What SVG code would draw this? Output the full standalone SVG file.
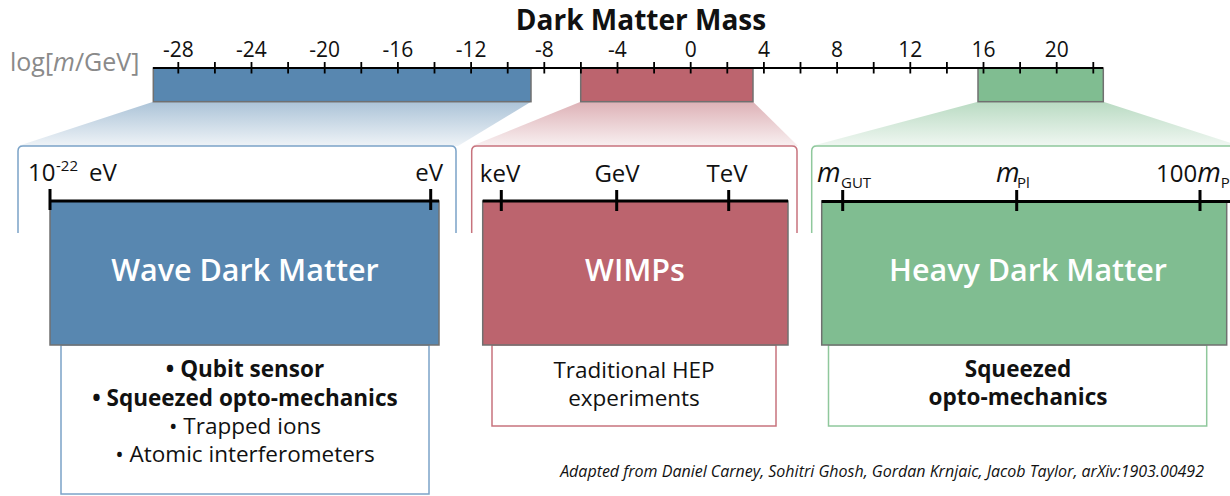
<svg xmlns="http://www.w3.org/2000/svg" width="1230" height="496" viewBox="0 0 1230 496">
<style>
text{font-family:"Open Sans","Noto Sans","DejaVu Sans",sans-serif;fill:#111}
.num{font-size:21px;text-anchor:middle}
.lab{font-size:24px}
.mid{text-anchor:middle}
.big{font-size:30.5px;font-weight:600;fill:#fff;text-anchor:middle}
.li{font-size:22.5px;text-anchor:middle}
.b{font-weight:700}
.bar{stroke:#707070;stroke-width:1.5}
.ax{stroke:#000;stroke-width:1.8;fill:none}
.ax2{stroke:#000;stroke-width:3;fill:none}
.blue{fill:#5887b0}.red{fill:#bc646e}.green{fill:#80bd91}
</style>
<defs>
<linearGradient id="gb" x1="0" y1="101.7" x2="0" y2="146" gradientUnits="userSpaceOnUse"><stop offset="0" stop-color="#5887b0" stop-opacity="0.5"/><stop offset="1" stop-color="#5887b0" stop-opacity="0.1"/></linearGradient>
<linearGradient id="gr" x1="0" y1="101.7" x2="0" y2="146" gradientUnits="userSpaceOnUse"><stop offset="0" stop-color="#bc646e" stop-opacity="0.5"/><stop offset="1" stop-color="#bc646e" stop-opacity="0.1"/></linearGradient>
<linearGradient id="gg" x1="0" y1="101.7" x2="0" y2="146" gradientUnits="userSpaceOnUse"><stop offset="0" stop-color="#80bd91" stop-opacity="0.55"/><stop offset="1" stop-color="#80bd91" stop-opacity="0.12"/></linearGradient>
</defs>
<rect width="1230" height="496" fill="#fff"/>

<g id="title">
<text x="641" y="30" class="mid b" font-size="28">Dark Matter Mass</text>
<text x="10" y="71" font-size="25" style="fill:#8a8a8a">log[<tspan font-style="italic">m</tspan>/GeV]</text>
</g>

<g id="connectors">
<polygon points="153.3,101.7 531,101.7 458,146 18,146" fill="url(#gb)"/>
<polygon points="580.7,101.7 753,101.7 798,146 471.7,146" fill="url(#gr)"/>
<polygon points="978,101.7 1103.3,101.7 1240,146 811.7,146" fill="url(#gg)"/>
</g>

<g id="bar-wave"><rect x="153.3" y="68" width="377.7" height="33.7" class="bar blue"/></g>
<g id="bar-wimps"><rect x="580.7" y="68" width="172.3" height="33.7" class="bar red"/></g>
<g id="bar-heavy"><rect x="978" y="68" width="125.3" height="33.7" class="bar green"/></g>

<g id="axis">
<line x1="153" y1="68" x2="1103" y2="68" class="ax"/>
<path class="ax" d="M178.3,62v11.5M214.9,62v11.5M251.5,62v11.5M288.1,62v11.5M324.7,62v11.5M361.3,62v11.5M397.9,62v11.5M434.5,62v11.5M471.1,62v11.5M507.7,62v11.5M544.3,62v11.5M580.9,62v11.5M617.5,62v11.5M654.1,62v11.5M690.7,62v11.5M727.3,62v11.5M763.9,62v11.5M800.5,62v11.5M837.1,62v11.5M873.7,62v11.5M910.3,62v11.5M946.9,62v11.5M983.5,62v11.5M1020.1,62v11.5M1056.7,62v11.5M1093.3,62v11.5"/>
<text class="num" y="57"><tspan x="178.3">-28</tspan><tspan x="251.5">-24</tspan><tspan x="324.7">-20</tspan><tspan x="397.9">-16</tspan><tspan x="471.1">-12</tspan><tspan x="544.3">-8</tspan><tspan x="617.5">-4</tspan><tspan x="690.7">0</tspan><tspan x="763.9">4</tspan><tspan x="837.1">8</tspan><tspan x="910.3">12</tspan><tspan x="983.5">16</tspan><tspan x="1056.7">20</tspan></text>
</g>

<g id="wave">
<path d="M18,233V151Q18,146 23,146H451Q456,146 456,151V233" fill="#fff" stroke="#7ba3c8" stroke-width="1.5"/>
<rect x="61" y="345" width="368" height="149" fill="#fff" stroke="#7ba3c8" stroke-width="1.5"/>
<rect x="50" y="201" width="389" height="144" class="bar blue"/>
<line x1="50" y1="201" x2="439" y2="201" class="ax2"/>
<path class="ax2" d="M50,189v21M430.7,189v21"/>
<text class="lab" y="181"><tspan x="28">10</tspan><tspan x="56" y="171" font-size="15">-22</tspan><tspan x="89" y="181">eV</tspan></text>
<text class="lab" x="443" y="181" text-anchor="end">eV</text>
<text class="big" x="245" y="281">Wave Dark Matter</text>
<text class="li b" x="245" y="377">• Qubit sensor</text>
<text class="li b" x="245" y="406">• Squeezed opto-mechanics</text>
<text class="li" x="245" y="434">• Trapped ions</text>
<text class="li" x="245" y="462">• Atomic interferometers</text>
</g>

<g id="wimps">
<path d="M471.7,233V151Q471.7,146 476.7,146H792Q797,146 797,151V233" fill="#fff" stroke="#c7737d" stroke-width="1.5"/>
<rect x="492" y="345" width="284" height="81" fill="#fff" stroke="#c7737d" stroke-width="1.5"/>
<rect x="482.7" y="201" width="305.3" height="144" class="bar red"/>
<line x1="482.7" y1="201" x2="788" y2="201" class="ax2"/>
<path class="ax2" d="M501.3,190v21M616.7,190v21M728.7,190v21"/>
<text class="lab mid" x="500" y="182">keV</text>
<text class="lab mid" x="617" y="182">GeV</text>
<text class="lab mid" x="727" y="182">TeV</text>
<text class="big" x="635" y="281">WIMPs</text>
<text class="li" x="634" y="378">Traditional HEP</text>
<text class="li" x="634" y="406">experiments</text>
</g>

<g id="heavy">
<path d="M811.7,233V151Q811.7,146 816.7,146H1240" fill="#fff" stroke="#8fc89c" stroke-width="1.5"/>
<rect x="828.5" y="345" width="378.2" height="81" fill="#fff" stroke="#8fc89c" stroke-width="1.5"/>
<rect x="821.7" y="201" width="405" height="144" class="bar green"/>
<line x1="821.7" y1="201.5" x2="1230" y2="201.5" class="ax2"/>
<path class="ax2" d="M842.7,190v21M1016.7,190v21M1200,190v21"/>
<text class="lab" y="182"><tspan x="817" font-style="italic" font-size="27">m</tspan><tspan x="841" y="188" font-size="15">GUT</tspan></text>
<text class="lab" y="182"><tspan x="996" font-style="italic" font-size="27">m</tspan><tspan x="1017" y="188" font-size="15">Pl</tspan></text>
<text class="lab" y="182"><tspan x="1156">100</tspan><tspan font-style="italic" font-size="27">m</tspan><tspan y="188" font-size="15">Pl</tspan></text>
<text class="big" x="1028" y="281">Heavy Dark Matter</text>
<text class="li b" x="1018" y="377">Squeezed</text>
<text class="li b" x="1018" y="405">opto-mechanics</text>
</g>

<g id="credit">
<text x="1204" y="477" font-size="16" font-style="italic" text-anchor="end">Adapted from Daniel Carney, Sohitri Ghosh, Gordan Krnjaic, Jacob Taylor, arXiv:1903.00492</text>
</g>
</svg>
